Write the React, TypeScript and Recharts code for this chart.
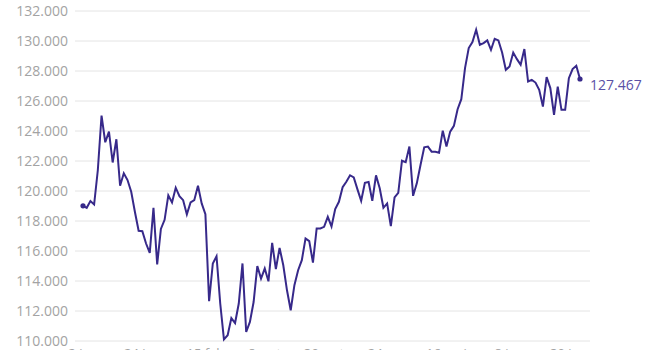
import { CartesianGrid, LabelList, Line, LineChart, XAxis, YAxis } from "recharts"

// closing values
const closes = [
  119010, 118880, 119330, 119100, 121400, 125030, 123250, 123960, 121900, 123450,
  120350, 121180, 120730, 119950, 118600, 117350, 117320, 116500, 115870, 118880,
  115100, 117470, 118080, 119710, 119240, 120220, 119660, 119390, 118440, 119240,
  119390, 120350, 119170, 118460, 112650, 115170, 115650, 112500, 110110, 110380,
  111530, 111200, 112500, 115170, 110600, 111270, 112600, 115000, 114160, 114830,
  113980, 116540, 114790, 116210, 115050, 113380, 112050, 113720, 114720, 115390,
  116840, 116660, 115230, 117500, 117500, 117610, 118280, 117640, 118800, 119280,
  120250, 120620, 121050, 120910, 120110, 119350, 120550, 120600, 119350, 121040,
  120180, 118880, 119170, 117660, 119570, 119880, 122020, 121920, 122960, 119680,
  120510, 121730, 122910, 122960, 122620, 122620, 122550, 124020, 122960, 123960,
  124340, 125450, 126120, 128190, 129530, 129930, 130750, 129750, 129860, 130040,
  129410, 130150, 130040, 129230, 128080, 128300, 129230, 128790, 128410, 129460,
  127300, 127410, 127230, 126740, 125630, 127590, 126860, 125070, 126960, 125410,
  125410, 127520, 128130, 128350, 127467,
]

const yTicks = [110000, 112000, 114000, 116000, 118000, 120000, 122000, 124000, 126000, 128000, 130000, 132000]

// x-axis labels sit below the visible area, only their tops show
const xTickIndex = [0, 16, 33, 49, 65, 82, 98, 115, 131]
const xTickLabels = ["2 jan", "24 jan", "15 feb", "8 mrt", "30 mrt", "24 apr", "16 mei", "8 jun", "30 jun"]

const data = closes.map((v, i) => ({ i, v }))
const lastIndex = closes.length - 1

const lineColor = "#37298a"
const numberFormatter = new Intl.NumberFormat("nl-NL")

function formatValue(value: number) {
  return numberFormatter.format(value)
}

function formatXTick(value: number) {
  const pos = xTickIndex.indexOf(value)
  return pos >= 0 ? xTickLabels[pos] : ""
}

function renderDot(props: any) {
  const { cx, cy, index } = props
  if (index !== 0 && index !== lastIndex) return <g key={`dot-${index}`} />
  return <circle key={`dot-${index}`} cx={cx} cy={cy} r={2.6} fill={lineColor} />
}

function renderEndLabel(props: any) {
  const { x, y, value, index } = props
  if (index !== lastIndex) return null
  return (
    <text x={x + 10} y={y + 6} dy="0.355em" fill="#5a50a6" fontSize={14} fontFamily="Open Sans">
      {formatValue(Number(value))}
    </text>
  )
}

export default function App() {
  return (
    <div style={{ position: "absolute", left: 0, top: 0, width: 650, height: 350 }}>
      <LineChart width={650} height={350} data={data} margin={{ top: 11, right: 60, left: 0, bottom: 0 }}>
        <CartesianGrid vertical={false} stroke="#e4e4e4" />
        <XAxis
          dataKey="i"
          type="number"
          domain={[0, lastIndex]}
          ticks={xTickIndex}
          tickFormatter={formatXTick}
          padding={{ left: 8, right: 10 }}
          height={9}
          axisLine={false}
          tickLine={false}
          tickSize={0}
          tickMargin={7.5}
          tick={{ fill: "#a3a3a3", fontSize: 13, fontFamily: "Open Sans" }}
        />
        <YAxis
          domain={[110000, 132000]}
          ticks={yTicks}
          tickFormatter={formatValue}
          width={75}
          axisLine={false}
          tickLine={false}
          tickSize={0}
          tickMargin={7}
          tick={{ fill: "#a3a3a3", fontSize: 14, fontFamily: "Open Sans" }}
        />
        <Line
          type="linear"
          dataKey="v"
          stroke={lineColor}
          strokeWidth={2}
          dot={renderDot}
          activeDot={false}
          isAnimationActive={false}
        >
          <LabelList dataKey="v" content={renderEndLabel} />
        </Line>
      </LineChart>
    </div>
  )
}
